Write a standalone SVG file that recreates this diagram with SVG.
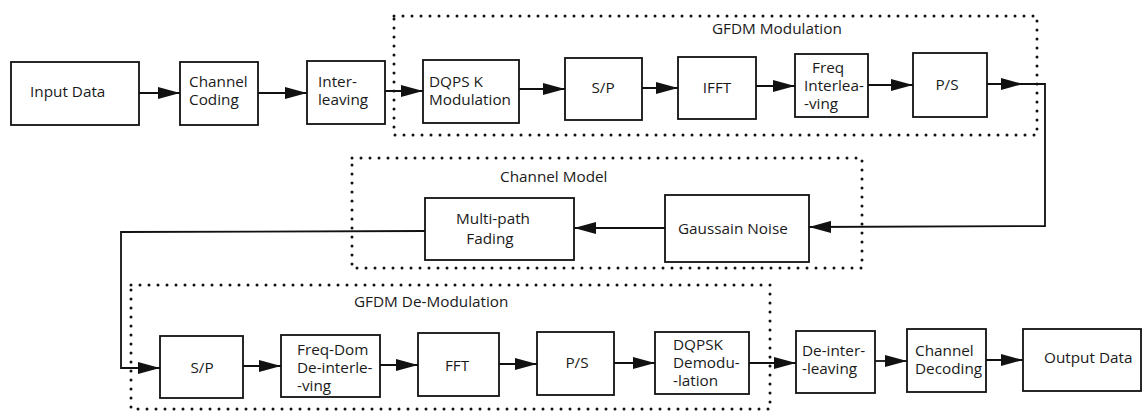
<svg xmlns="http://www.w3.org/2000/svg" width="1142" height="412" viewBox="0 0 1142 412">
  <defs>
    <marker id="arrow" markerWidth="22" markerHeight="12" refX="22" refY="6" orient="auto" markerUnits="userSpaceOnUse">
      <path d="M0,0 L22,6 L0,12 Z" fill="#111"/>
    </marker>
    <style>
      .box { fill: #fff; stroke: #111; stroke-width: 1.8; }
      .grp { fill: none; stroke: #111; stroke-width: 3; stroke-dasharray: 0 9; stroke-linecap: round; }
      .wire { fill: none; stroke: #111; stroke-width: 1.8; }
      .lbl { font-family: "Open Sans", "Noto Sans", sans-serif; font-size: 15.3px; fill: #1a1a1a; }
      .mid { text-anchor: middle; }
    </style>
  </defs>
  <rect width="1142" height="412" fill="#fff"/>

  <!-- dotted grouping frames -->
  <g id="group-gfdm-modulation">
    <rect class="grp" x="394" y="16" width="643" height="119"/>
    <text class="lbl" x="712" y="34">GFDM Modulation</text>
  </g>
  <g id="group-channel-model">
    <rect class="grp" x="352" y="158" width="510" height="110"/>
    <text class="lbl" x="500" y="182">Channel Model</text>
  </g>
  <g id="group-gfdm-demodulation">
    <rect class="grp" x="131" y="285" width="639" height="124"/>
    <text class="lbl" x="354" y="307">GFDM De-Modulation</text>
  </g>

  <!-- connectors -->
  <g id="connectors">
    <line class="wire" x1="139" y1="93" x2="180" y2="93" marker-end="url(#arrow)"/>
    <line class="wire" x1="258" y1="93" x2="307" y2="93" marker-end="url(#arrow)"/>
    <line class="wire" x1="385" y1="91" x2="423" y2="91" marker-end="url(#arrow)"/>
    <line class="wire" x1="519" y1="89" x2="565" y2="89" marker-end="url(#arrow)"/>
    <line class="wire" x1="642" y1="88" x2="678" y2="88" marker-end="url(#arrow)"/>
    <line class="wire" x1="756" y1="86" x2="795" y2="86" marker-end="url(#arrow)"/>
    <line class="wire" x1="868" y1="85" x2="913" y2="85" marker-end="url(#arrow)"/>
    <line class="wire" x1="987" y1="84" x2="1023" y2="84" marker-end="url(#arrow)"/>
    <polyline class="wire" points="1023,84 1045,84 1045,226 809,227" marker-end="url(#arrow)"/>
    <line class="wire" x1="665" y1="228" x2="574" y2="228" marker-end="url(#arrow)"/>
    <polyline class="wire" points="425,231 121,232 121,368 160,368" marker-end="url(#arrow)"/>
    <line class="wire" x1="243" y1="366" x2="281" y2="366" marker-end="url(#arrow)"/>
    <line class="wire" x1="380" y1="365" x2="418" y2="365" marker-end="url(#arrow)"/>
    <line class="wire" x1="499" y1="364" x2="537" y2="364" marker-end="url(#arrow)"/>
    <line class="wire" x1="614" y1="363" x2="655" y2="363" marker-end="url(#arrow)"/>
    <line class="wire" x1="749" y1="363" x2="796" y2="363" marker-end="url(#arrow)"/>
    <line class="wire" x1="875" y1="361" x2="907" y2="361" marker-end="url(#arrow)"/>
    <line class="wire" x1="986" y1="360" x2="1023" y2="360" marker-end="url(#arrow)"/>
  </g>

  <!-- transmitter chain -->
  <g id="input-data">
    <rect class="box" x="11" y="62" width="128" height="63"/>
    <text class="lbl" x="30" y="97">Input Data</text>
  </g>
  <g id="channel-coding">
    <rect class="box" x="180" y="62" width="78" height="63"/>
    <text class="lbl" x="189" y="87">Channel</text>
    <text class="lbl" x="189" y="105">Coding</text>
  </g>
  <g id="interleaving">
    <rect class="box" x="307" y="61" width="78" height="63"/>
    <text class="lbl" x="318" y="87">Inter-</text>
    <text class="lbl" x="318" y="105">leaving</text>
  </g>
  <g id="dqpsk-modulation">
    <rect class="box" x="423" y="60" width="96" height="63"/>
    <text class="lbl" x="429" y="87">DQPS K</text>
    <text class="lbl" x="429" y="105">Modulation</text>
  </g>
  <g id="sp-tx">
    <rect class="box" x="565" y="58" width="77" height="62"/>
    <text class="lbl mid" x="603" y="93">S/P</text>
  </g>
  <g id="ifft">
    <rect class="box" x="678" y="57" width="78" height="62"/>
    <text class="lbl mid" x="717" y="93">IFFT</text>
  </g>
  <g id="freq-interleaving">
    <rect class="box" x="795" y="54" width="73" height="63"/>
    <text class="lbl" x="812" y="73">Freq</text>
    <text class="lbl" x="804" y="91">Interlea-</text>
    <text class="lbl" x="804" y="109">-ving</text>
  </g>
  <g id="ps-tx">
    <rect class="box" x="913" y="53" width="74" height="64"/>
    <text class="lbl mid" x="947" y="90">P/S</text>
  </g>

  <!-- channel -->
  <g id="gaussian-noise">
    <rect class="box" x="665" y="195" width="144" height="67"/>
    <text class="lbl" x="678" y="234">Gaussain Noise</text>
  </g>
  <g id="multipath-fading">
    <rect class="box" x="425" y="198" width="149" height="62"/>
    <text class="lbl mid" x="493" y="224">Multi-path</text>
    <text class="lbl mid" x="490" y="244">Fading</text>
  </g>

  <!-- receiver chain -->
  <g id="sp-rx">
    <rect class="box" x="160" y="336" width="83" height="62"/>
    <text class="lbl mid" x="202" y="373">S/P</text>
  </g>
  <g id="freq-deinterleaving">
    <rect class="box" x="281" y="335" width="99" height="62"/>
    <text class="lbl" x="297" y="355">Freq-Dom</text>
    <text class="lbl" x="297" y="373">De-interle-</text>
    <text class="lbl" x="297" y="391">-ving</text>
  </g>
  <g id="fft">
    <rect class="box" x="418" y="333" width="81" height="63"/>
    <text class="lbl mid" x="457" y="371">FFT</text>
  </g>
  <g id="ps-rx">
    <rect class="box" x="537" y="332" width="77" height="63"/>
    <text class="lbl mid" x="577" y="368">P/S</text>
  </g>
  <g id="dqpsk-demodulation">
    <rect class="box" x="655" y="332" width="94" height="62"/>
    <text class="lbl" x="673" y="350">DQPSK</text>
    <text class="lbl" x="673" y="368">Demodu-</text>
    <text class="lbl" x="673" y="386">-lation</text>
  </g>
  <g id="deinterleaving">
    <rect class="box" x="796" y="331" width="79" height="62"/>
    <text class="lbl" x="802" y="356">De-inter-</text>
    <text class="lbl" x="802" y="374">-leaving</text>
  </g>
  <g id="channel-decoding">
    <rect class="box" x="907" y="329" width="79" height="63"/>
    <text class="lbl" x="915" y="356">Channel</text>
    <text class="lbl" x="915" y="374">Decoding</text>
  </g>
  <g id="output-data">
    <rect class="box" x="1023" y="329" width="118" height="62"/>
    <text class="lbl" x="1044" y="363">Output Data</text>
  </g>
</svg>
